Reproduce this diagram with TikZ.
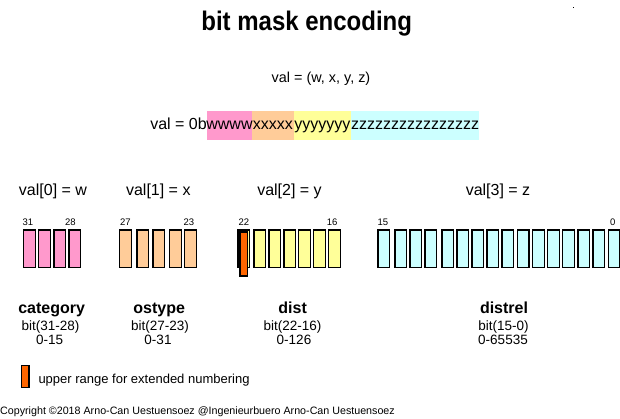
\documentclass[tikz,border=0pt]{standalone}
\usepackage{fontspec}
\setmainfont{Liberation Sans}
\definecolor{pinkc}{HTML}{FF99CC}
\definecolor{orangec}{HTML}{FFCC99}
\definecolor{yellowc}{HTML}{FFFF99}
\definecolor{cyanc}{HTML}{CCFFFF}
\definecolor{exthl}{HTML}{FF6600}
\begin{document}
\begin{tikzpicture}[x=1pt,y=-1pt,
  bitbox/.style={draw=black, line width=1.3pt, minimum width=11.5pt, minimum height=37.5pt, inner sep=0pt, anchor=north west},
  txt/.style={inner sep=0pt, anchor=base},
  valtxt/.style={txt, font=\fontsize{16}{16}\selectfont},
  numtxt/.style={inner sep=0pt, anchor=base west, font=\fontsize{9.5}{9.5}\selectfont},
  headtxt/.style={txt, font=\fontsize{16}{16}\selectfont\bfseries},
  subtxt/.style={txt, font=\fontsize{13.5}{13.5}\selectfont},
  band/.style={inner sep=0pt, anchor=north west, minimum height=28.7pt}
]
\useasboundingbox (0,0) rectangle (620,419);
\fill[white] (0,0) rectangle (620,419);
% title
\node[txt] (title) at (306.7,31) {\scalebox{1}[1.12]{\fontsize{24}{24}\selectfont\bfseries bit mask encoding}};
\fill (572.8,6.8) rectangle (573.8,7.8);
% tuple
\node[txt, font=\fontsize{14.4}{14.4}\selectfont] (tuple) at (321,82.7) {val = (w, x, y, z)};
% binary string
\node[band, fill=pinkc, minimum width=45pt] (bw) at (207,111) {};
\node[band, fill=orangec, minimum width=41.7pt] (bx) at (252,111) {};
\node[band, fill=yellowc, minimum width=57.3pt] (by) at (293.7,111) {};
\node[band, fill=cyanc, minimum width=128pt] (bz) at (351,111) {};
\node[valtxt, anchor=base east] (bpre) at (207,130) {val = 0b};
\node[valtxt] (tw) at (229.5,130) {wwww};
\node[valtxt] (tx) at (272.85,130) {xxxxx};
\node[valtxt] (ty) at (322.35,130) {yyyyyyy};
\node[valtxt] (tz) at (415,130) {zzzzzzzzzzzzzzzz};
% val[i] labels
\node[valtxt] (v0) at (53,196) {val[0] = w};
\node[valtxt] (v1) at (158.3,196) {val[1] = x};
\node[valtxt] (v2) at (289.5,196) {val[2] = y};
\node[valtxt] (v3) at (498,196) {val[3] = z};
% bit numbers
\node[numtxt] (n31) at (22.3,226) {31};
\node[numtxt] (n28) at (65,226) {28};
\node[numtxt] (n27) at (120,226) {27};
\node[numtxt] (n23) at (183.3,226) {23};
\node[numtxt] (n22) at (238.3,226) {22};
\node[numtxt] (n16) at (326.7,226) {16};
\node[numtxt] (n15) at (377.3,226) {15};
\node[numtxt] (n0) at (610,226) {0};
% bit boxes
\foreach \x [count=\i] in {23,38,53.3,68.3}
  \node[bitbox, fill=pinkc] (w\i) at (\x,229.3) {};
\foreach \x [count=\i] in {119,136.3,152.3,169,184}
  \node[bitbox, fill=orangec] (x\i) at (\x,229.3) {};
\foreach \x [count=\i] in {237.3,253.3,268.3,283.3,298,313,328}
  \node[bitbox, fill=yellowc] (y\i) at (\x,229.3) {};
\foreach \x [count=\i] in {377.3,394.3,409.3,424.3,441.3,456.3,471.3,486.3,501.3,516.7,532,547,562,577.3,592.3,607.7}
  \node[bitbox, fill=cyanc] (z\i) at (\x,229.3) {};
\node[draw=black, line width=1.3pt, fill=exthl, minimum width=7.4pt, minimum height=44pt, inner sep=0pt, anchor=north west] (ext) at (239.3,231.3) {};
% field labels
\node[headtxt] (h0) at (51.6,313) {category};
\node[subtxt] (b0) at (50.6,330) {bit(31-28)};
\node[subtxt] (r0) at (49.6,344) {0-15};
\node[headtxt] (h1) at (159.2,313) {ostype};
\node[subtxt] (b1) at (160,330) {bit(27-23)};
\node[subtxt] (r1) at (158,344) {0-31};
\node[headtxt] (h2) at (292.6,313) {dist};
\node[subtxt] (b2) at (292.6,330) {bit(22-16)};
\node[subtxt] (r2) at (294,344) {0-126};
\node[headtxt] (h3) at (504,313) {distrel};
\node[subtxt] (b3) at (503.4,330) {bit(15-0)};
\node[subtxt] (r3) at (503,344) {0-65535};
% legend
\node[draw=black, line width=1.3pt, fill=exthl, minimum width=7.6pt, minimum height=21.7pt, inner sep=0pt, anchor=north west] (legbox) at (20.7,365) {};
\node[txt, anchor=base west, font=\fontsize{13}{13}\selectfont] (legtxt) at (38.3,383.3) {upper range for extended numbering};
% copyright
\node[txt, anchor=base west, font=\fontsize{10.7}{10.7}\selectfont] (copy) at (0,414.4) {Copyright ©2018 Arno-Can Uestuensoez @Ingenieurbuero Arno-Can Uestuensoez};
\end{tikzpicture}
\end{document}
